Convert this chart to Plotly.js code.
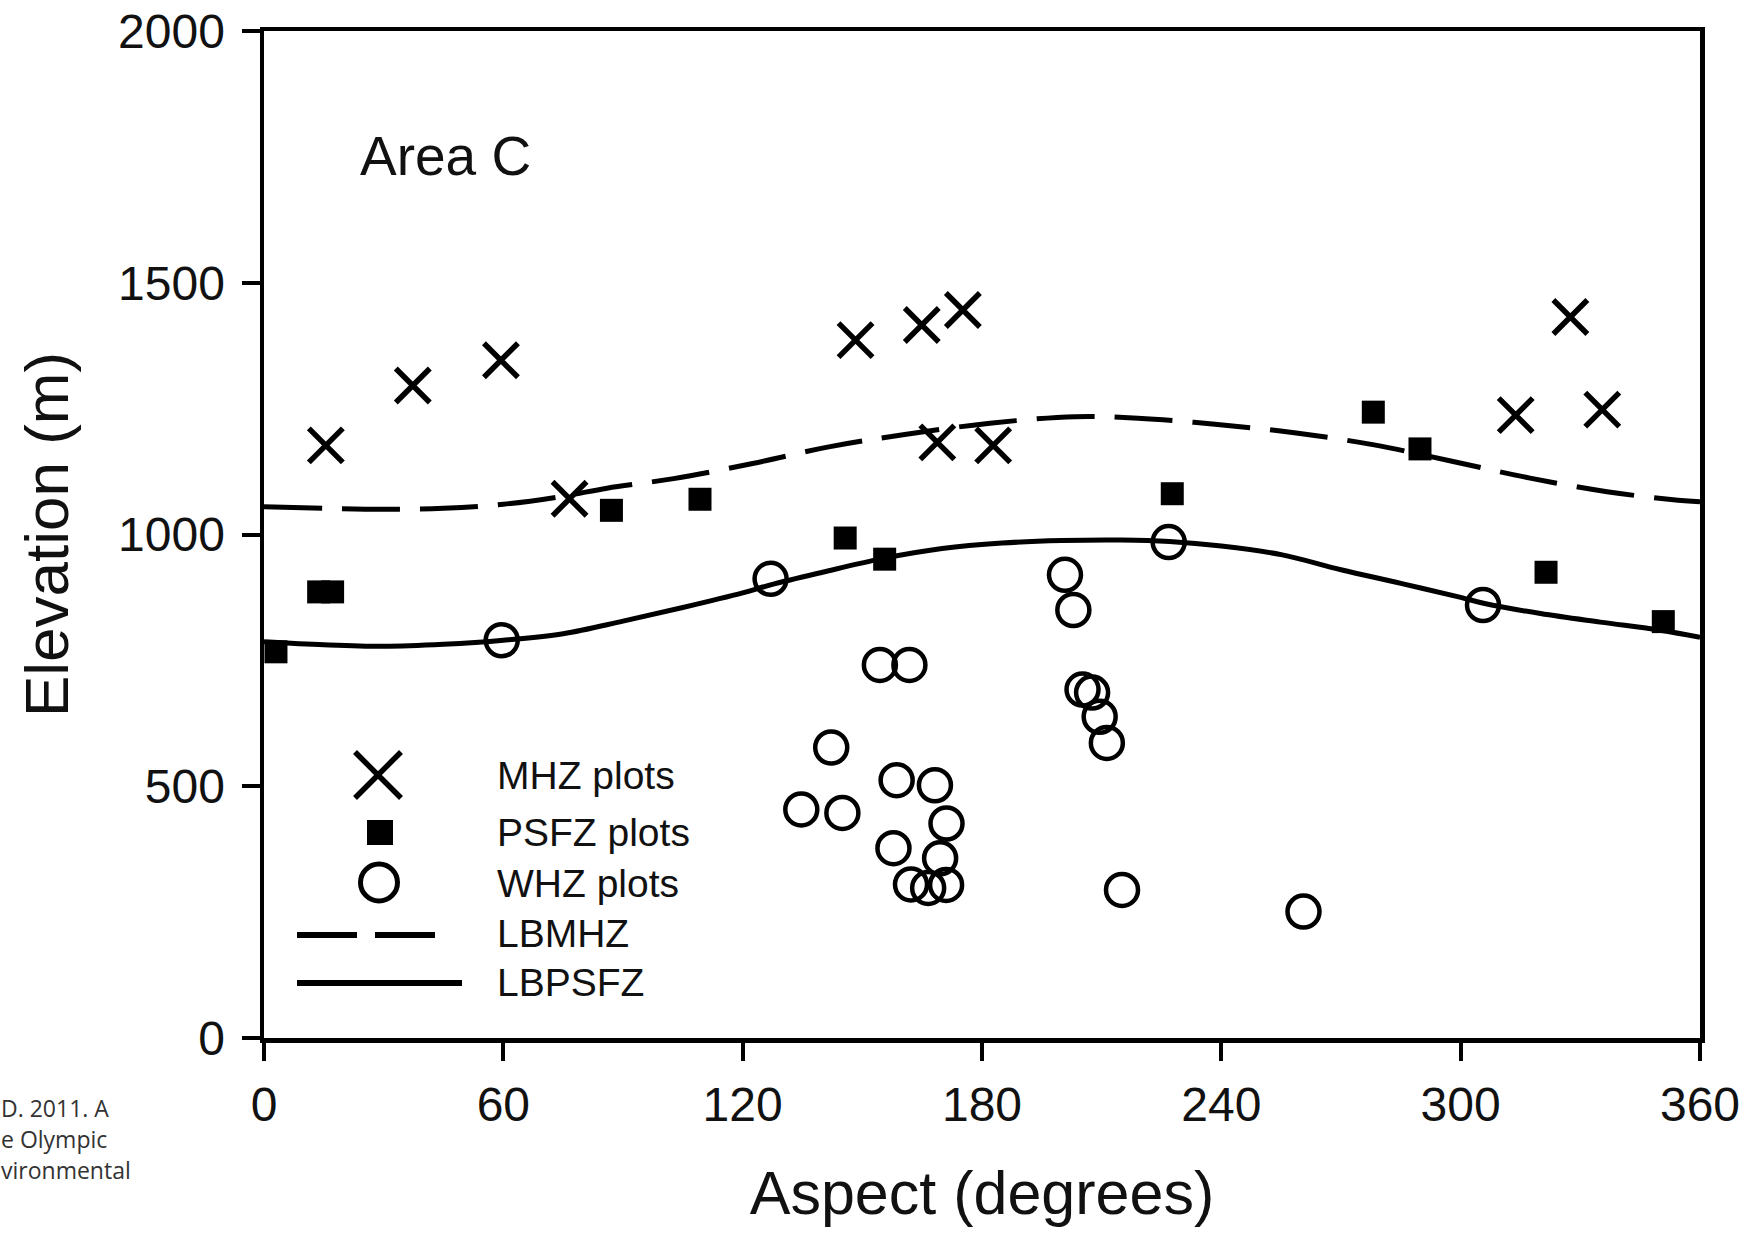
<!DOCTYPE html>
<html>
<head>
<meta charset="utf-8">
<script src="https://cdn.plot.ly/plotly-3.0.1.min.js"></script>
<style>html,body{margin:0;padding:0;background:#fff;}#chart{width:1759px;height:1233px;}</style>
</head>
<body>
<div id="chart"></div>
<script>
// ---- Data ----
const mhzAspect = [15.5, 37.3, 59.4, 76.6, 148.3, 164.9, 175.2, 168.8, 182.8, 313.8, 327.5, 335.5];
const mhzElev   = [1177, 1296, 1346, 1071, 1386, 1416, 1446, 1183, 1177, 1237, 1432, 1248];

const psfzAspect = [3.0, 13.7, 17.2, 87.1, 109.3, 145.7, 155.6, 227.7, 278.1, 289.8, 321.4, 350.8];
const psfzElev   = [767, 886, 886, 1048, 1070, 993, 951, 1081, 1243, 1170, 925, 827];

const whzAspect = [59.6, 127.0, 226.8, 305.6, 200.8, 202.9, 154.4, 161.8, 142.2, 134.7, 145.0, 158.6, 168.2, 171.1, 157.8, 169.5, 162.2, 166.5, 171.0, 205.2, 207.6, 209.5, 211.3, 215.1, 260.6];
const whzElev   = [790, 912, 985, 860, 920, 850, 741, 741, 577, 454, 447, 512, 502, 426, 377, 357, 305, 298, 304, 692, 686, 638, 586, 294, 251];

const lbmhzAspect = [0, 15, 30, 45, 60, 75, 86, 102.7, 122.5, 141.6, 160.2, 182, 203.3, 219.1, 238.4, 258.3, 278.3, 298.1, 317.4, 336.7, 354.5, 360];
const lbmhzElev   = [1055, 1052, 1050, 1052, 1060, 1076, 1092, 1111, 1141, 1174, 1198, 1221, 1234, 1231, 1219, 1202, 1178, 1145, 1112, 1085, 1068, 1065];

const lbpsfzAspect = [0, 15, 30, 45, 60, 75, 90, 105, 120, 127, 140, 155, 170, 185, 200, 215, 227, 240, 255, 270, 285, 300, 306, 320, 335, 350, 360];
const lbpsfzElev   = [787, 781, 778, 782, 790, 803, 828, 855, 884, 900, 925, 952, 972, 983, 988, 989, 986, 977, 960, 930, 903, 875, 863, 843, 826, 810, 796];

const xTicks = [0, 60, 120, 180, 240, 300, 360];
const yTicks = [0, 500, 1000, 1500, 2000];

const legendLabels = ["MHZ plots", "PSFZ plots", "WHZ plots", "LBMHZ", "LBPSFZ"];
const captionLines = ["D. 2011. A", "e Olympic", "vironmental"];
const panelLabel = "Area C";

// ---- Layout geometry ----
const W = 1759, H = 1233;
const M = {l: 264, r: 59, t: 31, b: 195};
const PW = W - M.l - M.r, PH = H - M.t - M.b;
const px = x => (x - M.l) / PW;
const py = y => (H - M.b - y) / PH;

const FONT = "Liberation Sans, Arial, sans-serif";
const INK = "#111";

const traces = [
  {x: lbmhzAspect, y: lbmhzElev, type: "scatter", mode: "lines", name: "LBMHZ",
   line: {color: "#000", width: 5, dash: "58px,20px", shape: "spline", smoothing: 1}, showlegend: false, hoverinfo: "skip"},
  {x: lbpsfzAspect, y: lbpsfzElev, type: "scatter", mode: "lines", name: "LBPSFZ",
   line: {color: "#000", width: 5, shape: "spline", smoothing: 1}, showlegend: false, hoverinfo: "skip"},
  {x: psfzAspect, y: psfzElev, type: "scatter", mode: "markers", name: "PSFZ plots",
   marker: {symbol: "square", size: 23, color: "#000", line: {width: 0}}, showlegend: false},
  {x: whzAspect, y: whzElev, type: "scatter", mode: "markers", name: "WHZ plots",
   marker: {symbol: "circle-open", size: 32, color: "#000", line: {width: 4.5, color: "#000"}}, showlegend: false},
  {x: mhzAspect, y: mhzElev, type: "scatter", mode: "markers", name: "MHZ plots",
   marker: {symbol: "x-thin-open", size: 34, color: "#000", line: {width: 5.5, color: "#000"}}, showlegend: false}
];

// custom legend (pixel positions converted to paper coordinates)
const legRowsY = [775, 832, 883, 933, 982];
const legTextX = 495;
const shapes = [
  {type: "line", xref: "paper", yref: "paper", x0: px(355), y0: py(752), x1: px(401), y1: py(798), line: {color: "#000", width: 5.5}},
  {type: "line", xref: "paper", yref: "paper", x0: px(355), y0: py(798), x1: px(401), y1: py(752), line: {color: "#000", width: 5.5}},
  {type: "rect", xref: "paper", yref: "paper", x0: px(367), y0: py(820), x1: px(393), y1: py(845), fillcolor: "#000", line: {width: 0}},
  {type: "circle", xref: "paper", yref: "paper", x0: px(360.5), y0: py(864), x1: px(397.5), y1: py(901), line: {color: "#000", width: 5}},
  {type: "line", xref: "paper", yref: "paper", x0: px(297), y0: py(935), x1: px(436), y1: py(935), line: {color: "#000", width: 6, dash: "60px,18px"}},
  {type: "line", xref: "paper", yref: "paper", x0: px(297), y0: py(983), x1: px(462), y1: py(983), line: {color: "#000", width: 6}}
];

const annotations = [];
legendLabels.forEach((t, i) => annotations.push({
  text: t, xref: "paper", yref: "paper", x: px(legTextX), y: py(legRowsY[i]),
  xanchor: "left", yanchor: "middle", showarrow: false,
  font: {family: FONT, size: 39, color: INK}
}));
annotations.push({
  text: panelLabel, xref: "paper", yref: "paper", x: px(358), y: py(156),
  xanchor: "left", yanchor: "middle", showarrow: false,
  font: {family: FONT, size: 55, color: INK}
});
const capY = [1108, 1139, 1170];
captionLines.forEach((t, i) => annotations.push({
  text: t, xref: "paper", yref: "paper", x: px(-1), y: py(capY[i]),
  xanchor: "left", yanchor: "middle", showarrow: false,
  font: {family: "Open Sans, sans-serif", size: 23, color: "#333"}
}));

const axisCommon = {
  showline: true, linecolor: "#000", linewidth: 4.5, mirror: true,
  ticks: "outside", ticklen: 18, tickwidth: 4, tickcolor: "#000",
  showgrid: false, zeroline: false,
  tickfont: {family: FONT, size: 48, color: INK}
};

const layout = {
  width: W, height: H,
  margin: M,
  paper_bgcolor: "#fff", plot_bgcolor: "#fff",
  showlegend: false,
  xaxis: Object.assign({}, axisCommon, {
    range: [0, 360], tickmode: "array", tickvals: xTicks, ticktext: xTicks.map(String),
    ticklabelstandoff: 3,
    title: {text: "Aspect (degrees)", font: {family: FONT, size: 61, color: INK}, standoff: 42}
  }),
  yaxis: Object.assign({}, axisCommon, {
    range: [0, 2000], tickmode: "array", tickvals: yTicks, ticktext: yTicks.map(String),
    ticklabelstandoff: 7,
    title: {text: "Elevation (m)", font: {family: FONT, size: 62, color: INK}, standoff: 31}
  }),
  shapes: shapes,
  annotations: annotations
};

Plotly.newPlot("chart", traces, layout, {displayModeBar: false, staticPlot: true});
</script>
</body>
</html>
